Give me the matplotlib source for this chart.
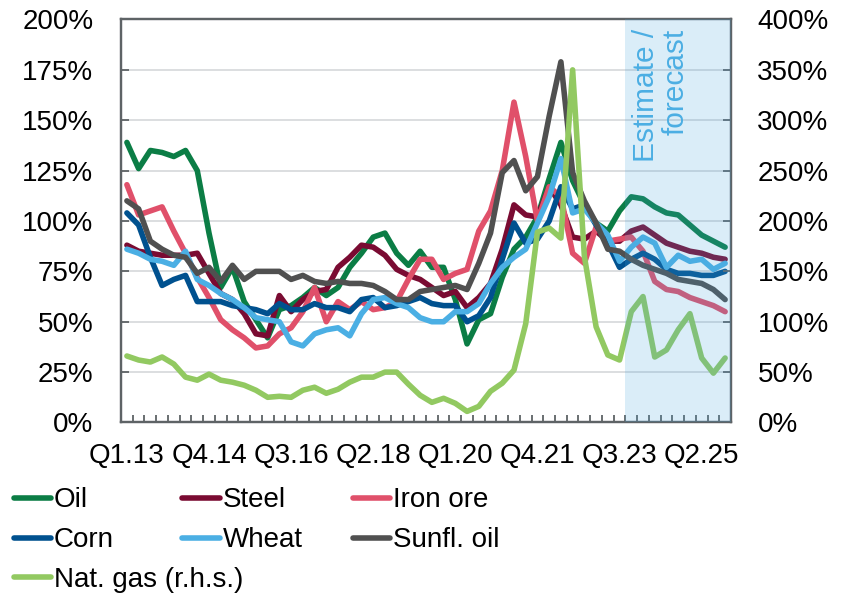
import numpy as np
import matplotlib
matplotlib.use("Agg")
from matplotlib import pyplot as plt
from matplotlib.lines import Line2D

plt.rcParams['font.family'] = ['Liberation Sans', 'DejaVu Sans']

# quarters Q1.13 .. Q4.25
quarters = ["Q%d.%02d" % (q, y) for y in range(13, 26) for q in range(1, 5)]
tick_every = 7

# left axis series (%)
oil = [139, 126, 135, 134, 132, 135, 125, 94, 67, 77, 60, 51, 42, 56, 58, 62, 67, 63, 67, 77,
       84, 92, 94, 84, 78, 85, 77, 77, 61, 39, 51, 54, 72, 86, 92, 102, 121, 139, 120, 108,
       99, 95, 105, 112, 111, 107, 104, 103, 98, 93, 90, 87]
steel = [88, 85, 84, 83, 83, 83, 84, 74, 64, 61, 54, 44, 43, 63, 55, 61, 65, 66, 77, 82,
         88, 87, 83, 76, 73, 71, 67, 63, 65, 57, 62, 69, 86, 108, 103, 102, 117, 108, 92, 91,
         95, 90, 90, 95, 97, 93, 89, 87, 85, 84, 82, 81]
iron_ore = [118, 103, 105, 107, 95, 84, 72, 62, 51, 46, 42, 37, 38, 44, 47, 55, 67, 50, 60, 56,
            60, 56, 57, 60, 71, 81, 81, 71, 74, 76, 95, 105, 125, 159, 132, 100, 117, 112, 84, 79,
            97, 90, 91, 92, 85, 70, 66, 65, 62, 60, 58, 55]
corn = [104, 98, 82, 68, 71, 73, 60, 60, 60, 58, 57, 56, 54, 59, 56, 56, 59, 57, 57, 55,
        61, 62, 57, 58, 60, 62, 59, 58, 58, 50, 53, 62, 81, 99, 89, 91, 100, 117, 106, 108,
        98, 89, 77, 81, 84, 81, 76, 74, 74, 73, 73, 75]
wheat = [86, 84, 81, 80, 78, 85, 71, 68, 64, 61, 57, 52, 51, 50, 40, 38, 44, 46, 47, 43,
         54, 61, 62, 59, 57, 52, 50, 50, 55, 55, 59, 69, 77, 82, 86, 99, 112, 131, 104, 106,
         99, 93, 80, 87, 92, 89, 77, 83, 80, 81, 76, 79]
sunfl_oil = [110, 106, 90, 86, 83, 82, 74, 77, 70, 78, 71, 75, 75, 75, 71, 73, 70, 69, 70, 69,
             69, 68, 65, 61, 61, 65, 66, 67, 68, 66, 79, 94, 124, 130, 115, 122, 152, 179, 124, 110,
             99, 86, 85, 81, 78, 76, 74, 71, 70, 69, 66, 61]
# right axis (%)
nat_gas = [66, 62, 60, 65, 58, 45, 42, 48, 42, 40, 37, 32, 25, 26, 25, 32, 35, 29, 33, 40,
           45, 45, 50, 50, 38, 27, 20, 24, 19, 11, 16, 31, 39, 52, 98, 189, 193, 183, 350, 165,
           95, 67, 62, 110, 125, 65, 72, 92, 108, 64, 49, 64]

forecast_start = "Q4.23"

colors = {
    "Oil": "#0B7D45",
    "Steel": "#7A0B32",
    "Iron ore": "#E0506A",
    "Corn": "#00518F",
    "Wheat": "#4BAFE4",
    "Sunfl. oil": "#505050",
    "Nat. gas (r.h.s.)": "#92C961",
}

fs_txt = 20

fig = plt.figure(figsize=(8.44, 5.98), dpi=100)
ax = fig.add_axes([0.1434, 0.2935, 0.7227, 0.6739])
ax2 = ax.twinx()

x = np.arange(len(quarters))
lw = 4.0
left_series = [("Oil", oil), ("Steel", steel), ("Iron ore", iron_ore),
               ("Corn", corn), ("Wheat", wheat), ("Sunfl. oil", sunfl_oil)]
for name, vals in left_series:
    ax.plot(x, vals, color=colors[name], lw=lw, solid_joinstyle="round", solid_capstyle="round")
ax2.plot(x, nat_gas, color=colors["Nat. gas (r.h.s.)"], lw=lw,
         solid_joinstyle="round", solid_capstyle="round")

# forecast shading, drawn over the lines
fs = quarters.index(forecast_start) - 0.5
ax2.axvspan(fs, len(quarters) - 0.5, color="#46A5DC", alpha=0.2, lw=0, zorder=10)
ax2.text(fs + 3.0, 391, "Estimate /\nforecast", rotation=90, ha="center", va="top",
         multialignment="right", color="#4BAEE3", fontsize=21.5, zorder=11, linespacing=1.05)

ax.set_xlim(-0.5, len(quarters) - 0.5)
ax.set_ylim(0, 200)
ax2.set_ylim(0, 400)
ax.set_yticks(np.arange(0, 201, 25))
ax2.set_yticks(np.arange(0, 401, 50))
ax.set_yticklabels(["%d%%" % v for v in range(0, 201, 25)])
ax2.set_yticklabels(["%d%%" % v for v in range(0, 401, 50)])
ax.set_xticks(x[::tick_every])
ax.set_xticklabels(quarters[::tick_every])
ax.set_xticks(np.arange(0.5, len(quarters) - 1, 1.0), minor=True)

ax.grid(axis="y", color="#D5D8DA", lw=1.2)
ax.set_axisbelow(True)

spine_col = "#5E6366"
for a in (ax, ax2):
    for s in a.spines.values():
        s.set_color(spine_col)
        s.set_linewidth(1.6)
ax.tick_params(axis="x", which="major", length=0, pad=15, labelsize=fs_txt)
ax.tick_params(axis="x", which="minor", direction="in", length=5, width=1.3, color=spine_col)
ax.tick_params(axis="y", direction="in", length=6, width=1.3, color=spine_col, pad=20, labelsize=fs_txt)
ax2.tick_params(axis="y", direction="in", length=6, width=1.3, color=spine_col, pad=19, labelsize=fs_txt)

# legend, three columns laid out by hand
def handle(name):
    return Line2D([], [], color=colors[name], lw=lw, solid_capstyle="round")

legend_cols = [
    (["Oil", "Corn", "Nat. gas (r.h.s.)"], 0.016),
    (["Steel", "Wheat"], 0.216),
    (["Iron ore", "Sunfl. oil"], 0.418),
]
for names, xpos in legend_cols:
    fig.legend([handle(n) for n in names], names, loc="upper left", bbox_to_anchor=(xpos, 0.185),
               frameon=False, fontsize=fs_txt, handlelength=1.35, handletextpad=0.1,
               labelspacing=0.5, borderpad=0, borderaxespad=0)

fig.savefig("out.png", dpi=100)
